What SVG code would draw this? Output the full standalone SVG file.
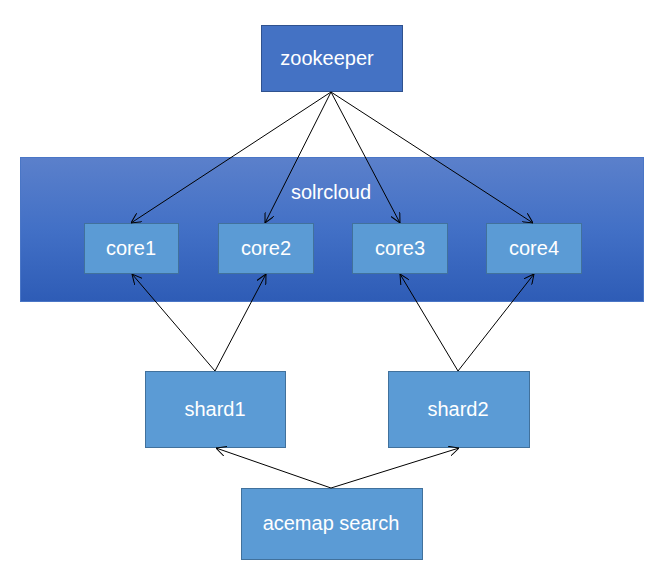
<svg xmlns="http://www.w3.org/2000/svg" width="661" height="572" viewBox="0 0 661 572">
<style>
.lbl{font-family:"Liberation Sans","DejaVu Sans",sans-serif;font-size:20px;fill:#ffffff;text-anchor:middle}
.box{fill:#5B9BD5;stroke:#41719C;stroke-width:1}
.conn line{stroke:#000;stroke-width:1;marker-end:url(#arr)}
</style>
<defs>
<linearGradient id="g" x1="0" y1="0" x2="0" y2="1">
<stop offset="0" stop-color="#5B80CB"/>
<stop offset="0.5" stop-color="#4270C6"/>
<stop offset="1" stop-color="#2E5CB6"/>
</linearGradient>
<marker id="arr" viewBox="0 0 10 10" refX="10" refY="5" markerWidth="10" markerHeight="10" markerUnits="userSpaceOnUse" orient="auto">
<path d="M0,0 L10,5 L0,10" fill="none" stroke="#000" stroke-width="1"/>
</marker>
</defs>
<rect width="661" height="572" fill="#fff"/>
<g id="solrcloud">
<rect x="20.5" y="157.5" width="623" height="144" fill="url(#g)" stroke="#4A76C6"/>
<text class="lbl" x="331" y="199">solrcloud</text>
</g>
<g id="zookeeper">
<rect x="261.5" y="25.5" width="141" height="66" fill="#4472C4" stroke="#2F528F"/>
<text class="lbl" x="327" y="65">zookeeper</text>
</g>
<g id="core1"><rect class="box" x="84.5" y="223.5" width="94" height="50"/><text class="lbl" x="131" y="255">core1</text></g>
<g id="core2"><rect class="box" x="218.5" y="223.5" width="95" height="50"/><text class="lbl" x="266" y="255">core2</text></g>
<g id="core3"><rect class="box" x="352.5" y="223.5" width="95" height="50"/><text class="lbl" x="400" y="255">core3</text></g>
<g id="core4"><rect class="box" x="486.5" y="223.5" width="95" height="50"/><text class="lbl" x="534" y="255">core4</text></g>
<g id="shard1"><rect class="box" x="145.5" y="371.5" width="140" height="76"/><text class="lbl" x="215" y="416">shard1</text></g>
<g id="shard2"><rect class="box" x="388.5" y="371.5" width="141" height="76"/><text class="lbl" x="458" y="416">shard2</text></g>
<g id="acemap"><rect class="box" x="241.5" y="488.5" width="181" height="71"/><text class="lbl" x="331" y="530">acemap search</text></g>
<g class="conn" id="connectors">
<line x1="331" y1="92" x2="131" y2="223"/>
<line x1="331" y1="92" x2="265" y2="223"/>
<line x1="331" y1="92" x2="400" y2="223"/>
<line x1="331" y1="92" x2="533" y2="223"/>
<line x1="215" y1="371" x2="132" y2="274"/>
<line x1="215" y1="371" x2="266" y2="274"/>
<line x1="458" y1="371" x2="400" y2="274"/>
<line x1="458" y1="371" x2="534" y2="274"/>
<line x1="331" y1="488" x2="216" y2="448"/>
<line x1="331" y1="488" x2="459" y2="448"/>
</g>
</svg>
